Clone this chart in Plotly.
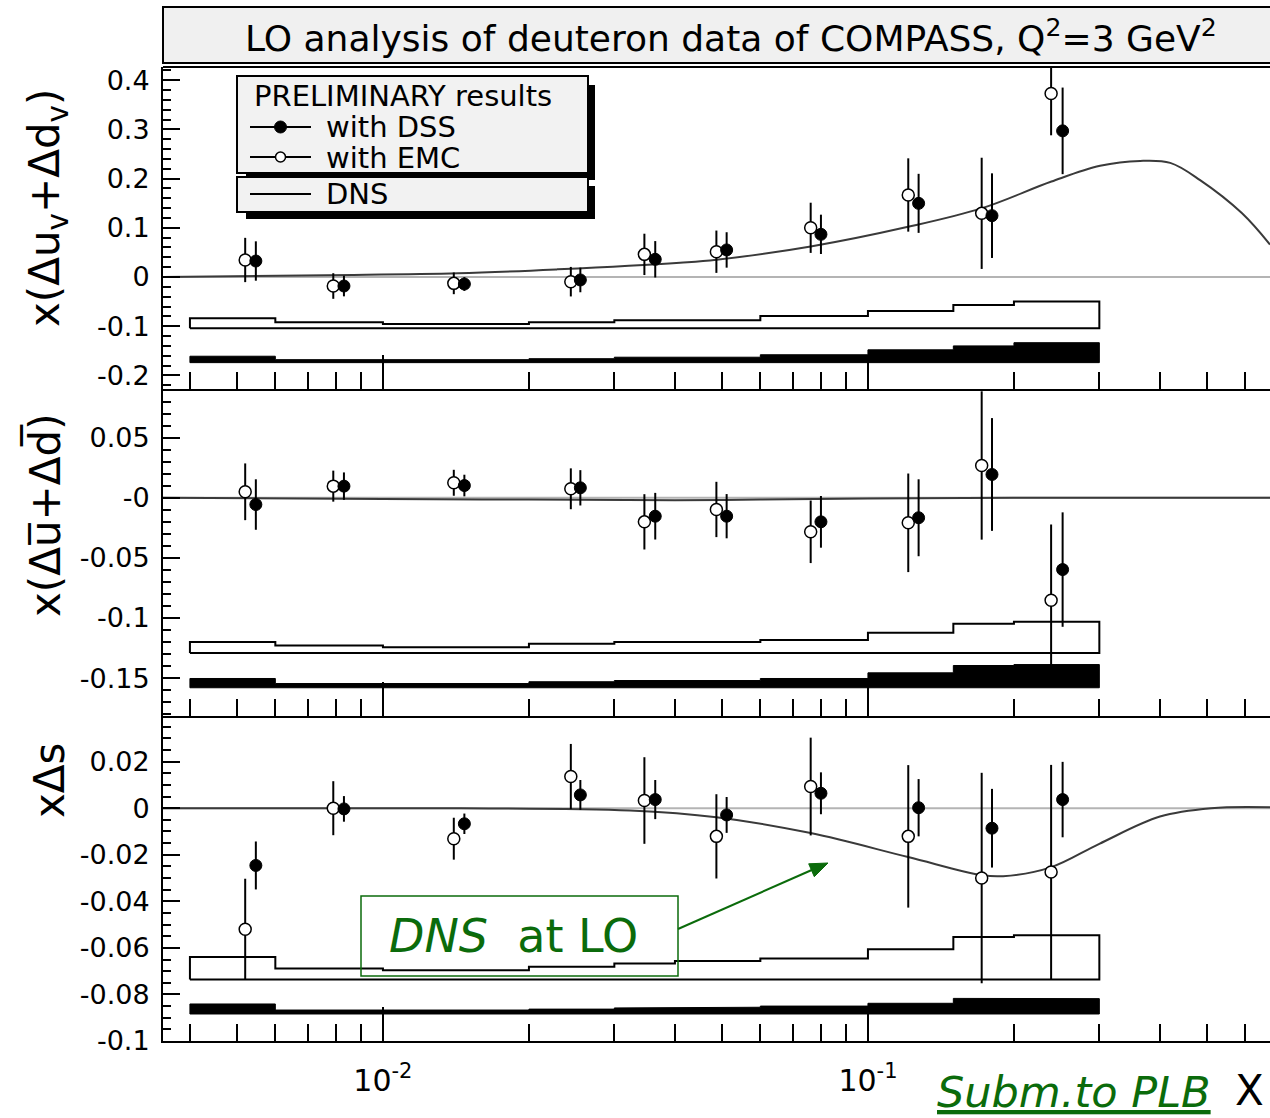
import math
import plotly.graph_objects as go

# ---------------- data ----------------
x_emc = [0.0052, 0.0079, 0.0140, 0.0244, 0.0346, 0.0487, 0.0762, 0.1211, 0.1716, 0.2386]
x_dss = [0.00547, 0.00831, 0.01472, 0.02553, 0.03643, 0.05113, 0.0800, 0.1272, 0.1802, 0.2520]

# panel 1 : x(Delta u_v + Delta d_v)
uv_emc = [0.0346, -0.0183, -0.0129, -0.0095, 0.046, 0.0514, 0.100, 0.1667, 0.1294, 0.373]
uv_emc_err = [0.045, 0.026, 0.022, 0.030, 0.042, 0.043, 0.051, 0.0745, 0.113, 0.085]
uv_dss = [0.0325, -0.0183, -0.0142, -0.006, 0.036, 0.055, 0.0867, 0.1497, 0.1247, 0.297]
uv_dss_err = [0.040, 0.021, 0.014, 0.025, 0.037, 0.036, 0.040, 0.060, 0.086, 0.088]

# panel 2 : x(Delta ubar + Delta dbar)
sea_emc = [0.005, 0.0097, 0.0125, 0.0075, -0.020, -0.0097, -0.0283, -0.0208, 0.0269, -0.0852]
sea_emc_err = [0.0236, 0.0129, 0.0108, 0.017, 0.023, 0.023, 0.026, 0.041, 0.0617, 0.063]
sea_dss = [-0.0056, 0.0097, 0.0102, 0.0083, -0.0153, -0.0153, -0.020, -0.0166, 0.0194, -0.0597]
sea_dss_err = [0.021, 0.0114, 0.009, 0.0147, 0.0194, 0.0184, 0.0215, 0.032, 0.0469, 0.0476]

# panel 3 : x Delta s
s_emc = [-0.052, 0.0, -0.0131, 0.0136, 0.0033, -0.0121, 0.0093, -0.0121, -0.030, -0.0274]
s_emc_err = [0.0217, 0.0116, 0.009, 0.014, 0.0186, 0.0181, 0.021, 0.0306, 0.0452, 0.046]
s_dss = [-0.0246, -0.0003, -0.0067, 0.0057, 0.0037, -0.0029, 0.0064, 0.0002, -0.0086, 0.0037]
s_dss_err = [0.0103, 0.0055, 0.0044, 0.0064, 0.0084, 0.0077, 0.009, 0.0123, 0.0169, 0.0162]

# DNS curves
dns_uv_x = [0.00352, 0.00763, 0.01428, 0.02295, 0.04097, 0.0487, 0.0762, 0.121, 0.172, 0.239,
            0.301, 0.364, 0.42, 0.484, 0.59, 0.6745]
dns_uv_y = [0.0, 0.0037, 0.0075, 0.0156, 0.029, 0.035, 0.062, 0.102, 0.140, 0.194,
            0.226, 0.236, 0.232, 0.197, 0.130, 0.066]
dns_sea_x = [0.00352, 0.01, 0.02, 0.04, 0.06, 0.1, 0.2, 0.6745]
dns_sea_y = [0.0, -0.001, -0.0015, -0.002, -0.0015, -0.0005, 0.0, 0.0]
dns_s_x = [0.00352, 0.0145, 0.0323, 0.0487, 0.0762, 0.121, 0.172, 0.19, 0.239, 0.30, 0.40, 0.51, 0.6745]
dns_s_y = [0.0, 0.0, -0.001, -0.0039, -0.0107, -0.021, -0.0288, -0.0292, -0.0253, -0.0153, -0.0036, 0.0, 0.0004]

# systematic bands (bin edges, tops, baselines)
bin_edges = [0.004, 0.006, 0.01, 0.02, 0.03, 0.04, 0.06, 0.1, 0.15, 0.2, 0.3]
uv_open_top = [-0.084, -0.092, -0.0955, -0.092, -0.088, -0.088, -0.079, -0.069, -0.057, -0.050]
uv_open_base = -0.104
uv_black_top = [-0.161, -0.168, -0.168, -0.166, -0.163, -0.163, -0.158, -0.148, -0.140, -0.1335]
uv_black_base = -0.174
sea_open_top = [-0.120, -0.1229, -0.1243, -0.1215, -0.120, -0.120, -0.1182, -0.1123, -0.1048, -0.1032]
sea_open_base = -0.129
sea_black_top = [-0.1503, -0.1545, -0.1545, -0.153, -0.152, -0.152, -0.1503, -0.1456, -0.1395, -0.1387]
sea_black_base = -0.158
s_open_top = [-0.0639, -0.0689, -0.0696, -0.0681, -0.0667, -0.0656, -0.0646, -0.0606, -0.0553, -0.0546]
s_open_base = -0.0736
s_black_top = [-0.0841, -0.0867, -0.0867, -0.0863, -0.0858, -0.0855, -0.085, -0.0838, -0.0817, -0.0818]
s_black_base = -0.0884

# axis ticks
x_major = [0.01, 0.1]
x_major_text = ["10<sup>-2</sup>", "10<sup>-1</sup>"]
x_minor = [0.004, 0.005, 0.006, 0.007, 0.008, 0.009,
           0.02, 0.03, 0.04, 0.05, 0.06, 0.07, 0.08, 0.09,
           0.2, 0.3, 0.4, 0.5, 0.6]
y1_ticks = [-0.2, -0.1, 0, 0.1, 0.2, 0.3, 0.4]
y1_text = ["-0.2", "-0.1", "0", "0.1", "0.2", "0.3", "0.4"]
y2_ticks = [-0.15, -0.1, -0.05, 0, 0.05]
y2_text = ["-0.15", "-0.1", "-0.05", "-0", "0.05"]
y3_ticks = [-0.1, -0.08, -0.06, -0.04, -0.02, 0, 0.02]
y3_text = ["-0.1", "-0.08", "-0.06", "-0.04", "-0.02", "0", "0.02"]

# ---------------- layout geometry ----------------
W, H = 1270, 1118


def px(x):
    return x / W


def py(y):
    return 1 - y / H


X_LEFT, X_TOP = 163, 67
Y_B1, Y_B2, Y_B3 = 389, 716, 1041
X_RANGE = [math.log10(0.00352), math.log10(0.6745)]
Y1_RANGE = [-0.2276, 0.4268]
Y2_RANGE = [-0.1815, 0.0905]
Y3_RANGE = [-0.1, 0.0396]

FONT = "DejaVu Sans"
GREEN = "#0b6b0b"

fig = go.Figure()


def step_poly(edges, tops, base):
    xs, ys = [edges[0]], [base]
    for i, t in enumerate(tops):
        xs += [edges[i], edges[i + 1]]
        ys += [t, t]
    xs += [edges[-1], edges[0]]
    ys += [base, base]
    return xs, ys


panels = [
    ("x", "y", uv_emc, uv_emc_err, uv_dss, uv_dss_err, dns_uv_x, dns_uv_y,
     uv_open_top, uv_open_base, uv_black_top, uv_black_base),
    ("x2", "y2", sea_emc, sea_emc_err, sea_dss, sea_dss_err, dns_sea_x, dns_sea_y,
     sea_open_top, sea_open_base, sea_black_top, sea_black_base),
    ("x3", "y3", s_emc, s_emc_err, s_dss, s_dss_err, dns_s_x, dns_s_y,
     s_open_top, s_open_base, s_black_top, s_black_base),
]

for (xa, ya, emc, emc_e, dss, dss_e, cx, cy, ot, ob, bt, bb) in panels:
    # zero line
    fig.add_trace(go.Scatter(x=[10 ** X_RANGE[0], 10 ** X_RANGE[1]], y=[0, 0], mode="lines",
                             line=dict(color="#b4b4b4", width=2), xaxis=xa, yaxis=ya,
                             showlegend=False, hoverinfo="skip"))
    # DNS curve
    fig.add_trace(go.Scatter(x=cx, y=cy, mode="lines", line=dict(color="#3a3a3a", width=2, shape="spline"),
                             xaxis=xa, yaxis=ya, showlegend=False))
    # bands
    bx, by = step_poly(bin_edges, ot, ob)
    fig.add_trace(go.Scatter(x=bx, y=by, mode="lines", line=dict(color="black", width=2),
                             xaxis=xa, yaxis=ya, showlegend=False, hoverinfo="skip"))
    bx, by = step_poly(bin_edges, bt, bb)
    fig.add_trace(go.Scatter(x=bx, y=by, mode="lines", fill="toself", fillcolor="black",
                             line=dict(color="black", width=1),
                             xaxis=xa, yaxis=ya, showlegend=False, hoverinfo="skip"))
    # data
    fig.add_trace(go.Scatter(x=x_emc, y=emc, mode="markers",
                             marker=dict(symbol="circle", size=12, color="white",
                                         line=dict(color="black", width=1.5)),
                             error_y=dict(type="data", array=emc_e, thickness=2, width=0, color="black"),
                             xaxis=xa, yaxis=ya, showlegend=False))
    fig.add_trace(go.Scatter(x=x_dss, y=dss, mode="markers",
                             marker=dict(symbol="circle", size=12, color="black",
                                         line=dict(color="black", width=1)),
                             error_y=dict(type="data", array=dss_e, thickness=2, width=0, color="black"),
                             xaxis=xa, yaxis=ya, showlegend=False))

tickfont_y = dict(family=FONT, size=27, color="black")
tickfont_x = dict(family=FONT, size=30, color="black")


def xaxis(anchor, labels):
    return dict(type="log", range=X_RANGE, domain=[px(X_LEFT), 1.0], anchor=anchor,
                showline=True, linecolor="black", linewidth=2, mirror=False,
                ticks="inside", tickmode="array", tickvals=x_major,
                ticktext=x_major_text, ticklen=34, tickwidth=2, tickcolor="black",
                minor=dict(tickmode="array", tickvals=x_minor, ticks="inside", ticklen=17,
                           tickwidth=1.5, tickcolor="black", showgrid=False),
                showticklabels=labels, tickfont=tickfont_x, ticklabelstandoff=12,
                showgrid=False, zeroline=False, automargin=False)


def yaxis(anchor, dom, rng, tv, tt, minor_d):
    return dict(range=rng, domain=dom, anchor=anchor, showline=True, linecolor="black",
                linewidth=2, ticks="inside", tickmode="array", tickvals=tv, ticktext=tt,
                ticklen=17, tickwidth=2, tickcolor="black",
                minor=dict(dtick=minor_d, ticks="inside", ticklen=8, tickwidth=1.5,
                           tickcolor="black", showgrid=False),
                tickfont=tickfont_y, ticklabelstandoff=6,
                showgrid=False, zeroline=False, automargin=False)


fig.update_layout(
    width=W, height=H, margin=dict(l=0, r=0, t=0, b=0),
    paper_bgcolor="white", plot_bgcolor="white", showlegend=False,
    xaxis=xaxis("y", False),
    xaxis2=xaxis("y2", False),
    xaxis3=xaxis("y3", True),
    yaxis=yaxis("x", [py(Y_B1), py(X_TOP)], Y1_RANGE, y1_ticks, y1_text, 0.02),
    yaxis2=yaxis("x2", [py(Y_B2), py(Y_B1)], Y2_RANGE, y2_ticks, y2_text, 0.01),
    yaxis3=yaxis("x3", [py(Y_B3), py(Y_B2)], Y3_RANGE, y3_ticks, y3_text, 0.005),
)

shapes = []
# title box
shapes.append(dict(type="rect", xref="paper", yref="paper", x0=px(X_LEFT), x1=1.01,
                   y0=py(63), y1=py(7), fillcolor="#f0f0f0", line=dict(color="black", width=2)))
# panel top frame
shapes.append(dict(type="line", xref="paper", yref="paper", x0=px(X_LEFT), x1=1.01,
                   y0=py(X_TOP), y1=py(X_TOP), line=dict(color="black", width=2)))
# legend boxes with shadows
for (x0, y0, x1, y1) in [(237, 76, 588, 173), (237, 177, 588, 212)]:
    shapes.append(dict(type="rect", xref="paper", yref="paper", x0=px(x0 + 9), x1=px(x1 + 7),
                       y0=py(y1 + 7), y1=py(y0 + 9), fillcolor="black", line=dict(width=0)))
    shapes.append(dict(type="rect", xref="paper", yref="paper", x0=px(x0), x1=px(x1),
                       y0=py(y1), y1=py(y0), fillcolor="#f2f2f2", line=dict(color="black", width=2)))
for yy in [127, 157, 194]:
    shapes.append(dict(type="line", xref="paper", yref="paper", x0=px(250), x1=px(311),
                       y0=py(yy), y1=py(yy), line=dict(color="black", width=2)))
shapes.append(dict(type="circle", xref="paper", yref="paper", xsizemode="pixel", ysizemode="pixel",
                   xanchor=px(280.5), yanchor=py(127), x0=-6, x1=6, y0=-6, y1=6,
                   fillcolor="black", line=dict(color="black", width=1)))
shapes.append(dict(type="circle", xref="paper", yref="paper", xsizemode="pixel", ysizemode="pixel",
                   xanchor=px(280.5), yanchor=py(157), x0=-5, x1=5, y0=-5, y1=5,
                   fillcolor="white", line=dict(color="black", width=1.5)))
# DNS at LO box
shapes.append(dict(type="rect", xref="paper", yref="paper", x0=px(361), x1=px(678),
                   y0=py(976), y1=py(896), line=dict(color=GREEN, width=1.5)))
# arrow from the box toward the DNS curve
shapes.append(dict(type="line", xref="paper", yref="paper", x0=px(678), x1=px(814),
                   y0=py(929), y1=py(869), line=dict(color=GREEN, width=2)))
head = [(828, 863), (814.3, 876.7), (808.7, 863.8)]
shapes.append(dict(type="path", xref="paper", yref="paper",
                   path="M {} {} L {} {} L {} {} Z".format(*[v for p in head for v in (px(p[0]), py(p[1]))]),
                   fillcolor=GREEN, line=dict(color=GREEN, width=1)))
fig.update_layout(shapes=shapes)

ann = []
ann.append(dict(text="LO analysis of deuteron data of COMPASS, Q<sup>2</sup>=3 GeV<sup>2</sup>",
                x=px(731), y=py(36), xref="paper", yref="paper", showarrow=False,
                xanchor="center", yanchor="middle", font=dict(family=FONT, size=36, color="black")))
for t, xx, yy in [("PRELIMINARY results", 252, 95.5), ("with DSS", 324, 126.5),
                  ("with EMC", 324, 157.5), ("DNS", 324, 194)]:
    ann.append(dict(text=t, x=px(xx), y=py(yy), xref="paper", yref="paper", showarrow=False,
                    xanchor="left", yanchor="middle", font=dict(family=FONT, size=29, color="black")))
for t, xx, yy in [("x(Δu<sub>v</sub>+Δd<sub>v</sub>)", 47, 208),
                  ("x(Δu\u0305+Δd\u0305)", 45, 515),
                  ("xΔs", 49, 781)]:
    ann.append(dict(text=t, x=px(xx), y=py(yy), xref="paper", yref="paper", showarrow=False,
                    textangle=-90, xanchor="center", yanchor="middle",
                    font=dict(family=FONT, size=42, color="black")))
ann.append(dict(text="<i>DNS</i>  at LO", x=px(513), y=py(936), xref="paper", yref="paper",
                showarrow=False, xanchor="center", yanchor="middle",
                font=dict(family=FONT, size=46, color=GREEN)))
ann.append(dict(text="<i><u>Subm.to PLB</u></i>", x=px(935), y=py(1092), xref="paper", yref="paper",
                showarrow=False, xanchor="left", yanchor="middle",
                font=dict(family=FONT, size=43, color=GREEN)))
ann.append(dict(text="X", x=px(1249), y=py(1117), xref="paper", yref="paper",
                showarrow=False, xanchor="center", yanchor="bottom",
                font=dict(family=FONT, size=42, color="black")))
fig.update_layout(annotations=ann)

fig.write_html("out.html")
